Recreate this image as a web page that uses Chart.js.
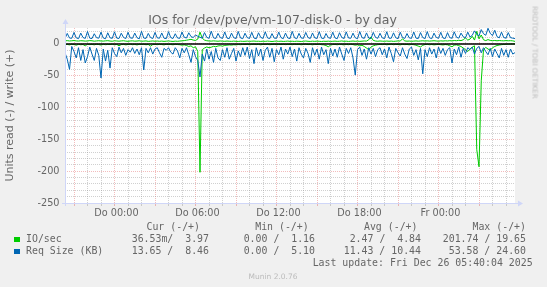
<!DOCTYPE html>
<html><head><meta charset="utf-8">
<script src="https://cdn.jsdelivr.net/npm/chart.js@4"></script>
<style>
html,body{margin:0;padding:0;background:#f0f0f0;}
#wrap{position:relative;width:547px;height:287px;overflow:hidden;background:#f0f0f0;}
canvas{position:absolute;left:0;top:0;}
.t{position:absolute;white-space:pre;color:#666;font-family:"DejaVu Sans";}
.m{font-family:"DejaVu Sans Mono";font-size:9.9px;line-height:12px;}
.sq{position:absolute;width:5.5px;height:5.5px;}
</style></head><body>
<div id="wrap">
<canvas id="c" width="547" height="287"></canvas>
<div class="t" style="left:0;width:545px;text-align:center;top:11.9px;font-size:12.5px;line-height:15px;">IOs for /dev/pve/vm-107-disk-0 - by day</div>
<div class="t" style="left:474.5px;width:120px;top:48px;text-align:center;font-size:7.2px;line-height:9px;color:#bbb;transform:rotate(90deg);">RRDTOOL / TOBI OETIKER</div>

<div class="t m" style="right:347px;top:221.1px;">Cur (-/+)</div>
<div class="t m" style="right:238.3px;top:221.1px;">Min (-/+)</div>
<div class="t m" style="right:129.5px;top:221.1px;">Avg (-/+)</div>
<div class="t m" style="right:21px;top:221.1px;">Max (-/+)</div>

<div class="sq" style="left:14px;top:236.8px;background:#00cc00;"></div>
<div class="t m" style="left:26px;top:232.9px;">IO/sec</div>
<div class="t m" style="right:338px;top:232.9px;">36.53m/  3.97</div>
<div class="t m" style="right:232px;top:232.9px;">0.00 /  1.16</div>
<div class="t m" style="right:126px;top:232.9px;">2.47 /  4.84</div>
<div class="t m" style="right:21px;top:232.9px;">201.74 / 19.65</div>

<div class="sq" style="left:14px;top:248.8px;background:#0066b3;"></div>
<div class="t m" style="left:26px;top:244.9px;">Req Size (KB)</div>
<div class="t m" style="right:338px;top:244.9px;">13.65 /  8.46</div>
<div class="t m" style="right:232px;top:244.9px;">0.00 /  5.10</div>
<div class="t m" style="right:126px;top:244.9px;">11.43 / 10.44</div>
<div class="t m" style="right:21px;top:244.9px;">53.58 / 24.60</div>

<div class="t m" style="right:14.4px;top:257.1px;">Last update: Fri Dec 26 05:40:04 2025</div>
<div class="t" style="left:0;width:546px;text-align:center;top:271.9px;font-size:7.5px;line-height:9px;color:#bbb;">Munin 2.0.76</div>
</div>
<script>
// time axis: hours relative to "Do 00:00"; samples every 10 minutes from Wed 20:20 to Fri 05:40
const START = -3 - 40 / 60;
const STEP = 10 / 60;

const xTickHours = [0, 6, 12, 18, 24];
const xTickLabels = ['Do 00:00', 'Do 06:00', 'Do 12:00', 'Do 18:00', 'Fr 00:00'];
const yTickValues = [0, -50, -100, -150, -200, -250];
const yAxisTitle = 'Units read (-) / write (+)';

// IO/sec write (+)
const ioWrite = [
4.8,5.1,4.6,4.9,5.3,4.7,4.5,5.0,4.8,4.4,4.6,5.2,4.9,4.3,4.7,5.0,4.6,4.4,4.8,5.1,
4.5,4.2,4.9,4.6,4.3,4.7,5.0,4.4,4.1,4.6,4.8,4.3,4.5,4.9,4.2,4.4,4.7,4.0,4.3,4.6,
4.2,4.5,4.1,4.4,4.0,4.3,4.6,4.2,3.9,4.4,4.1,4.5,4.8,5.2,5.8,6.5,7.2,6.0,5.5,7.5,
18.5,9.0,6.0,5.0,4.6,4.4,4.8,4.5,4.2,4.6,4.3,4.1,4.5,4.2,4.0,4.4,4.1,3.9,4.3,4.0,
4.1,4.4,4.0,4.3,4.5,4.1,4.2,3.9,4.3,4.0,4.4,4.1,3.8,4.2,4.4,4.0,4.3,3.9,4.1,4.4,
4.0,4.2,3.9,4.3,4.1,3.8,4.2,4.5,4.1,3.9,4.3,4.0,4.4,4.1,3.8,4.2,4.0,4.3,3.9,4.1,
4.4,4.0,4.2,4.6,4.1,4.3,3.9,4.2,4.5,4.1,4.4,4.0,4.3,4.6,4.4,6.5,11.0,5.5,4.5,4.2,
4.6,4.3,4.1,4.5,4.2,4.4,4.0,4.3,4.7,4.4,8.0,4.7,4.3,4.5,4.1,4.4,4.7,4.3,4.6,4.9,
4.5,4.8,4.4,4.7,5.0,4.6,4.3,4.8,4.5,4.9,4.6,5.1,4.7,5.3,5.0,5.7,5.2,6.5,9.5,6.0,
7.5,12.0,6.0,19.65,8.0,14.0,6.5,5.2,6.8,5.5,5.0,5.4,4.9,5.3,5.0,4.8,5.2,4.9,5.1,4.8,
3.97];

// IO/sec read (-)
const ioRead = [
-1.2,-0.8,-1.5,-0.6,-1.0,-2.0,-0.7,-1.3,-0.9,-3.0,-0.5,-1.1,-0.8,-1.4,-0.6,-1.0,-1.8,-0.7,-1.2,-0.9,
-1.0,-0.6,-1.4,-0.8,-3.0,-1.1,-0.7,-1.5,-0.9,-0.5,-1.2,-0.8,-1.6,-0.7,-1.0,-0.6,-1.3,-0.9,-3.5,-1.1,
-0.8,-1.2,-0.6,-1.0,-1.5,-0.7,-1.1,-0.9,-1.4,-0.6,-1.0,-1.3,-2.0,-1.5,-2.5,-4.0,-3.0,-6.0,-4.5,-12.0,
-201.74,-9.0,-6.5,-4.8,-6.0,-5.2,-3.8,-4.5,-3.2,-2.8,-3.5,-2.4,-2.0,-1.6,-1.9,-1.3,-1.5,-1.0,-1.2,-0.8,
-1.0,-0.7,-1.3,-0.9,-0.6,-1.1,-0.8,-1.4,-0.7,-1.0,-0.5,-1.2,-0.9,-0.6,-1.3,-0.8,-1.0,-0.7,-1.1,-0.9,
-0.8,-1.2,-0.6,-1.0,-0.7,-1.3,-0.9,-0.5,-1.1,-0.8,-1.4,-0.7,-1.0,-0.6,-1.2,-1.5,-2.5,-4.5,-2.0,-1.0,
-0.9,-1.3,-0.7,-1.0,-1.5,-0.8,-1.2,-0.6,-1.1,-2.0,-1.4,-3.0,-2.2,-4.0,-6.5,-9.0,-5.0,-3.0,-2.0,-1.2,
-0.8,-1.1,-0.7,-1.3,-0.9,-0.6,-1.2,-0.8,-1.0,-1.5,-0.7,-1.1,-0.9,-1.4,-0.8,-1.2,-2.0,-3.5,-4.8,-2.2,
-1.0,-0.7,-1.3,-0.9,-1.5,-1.1,-0.8,-1.2,-1.6,-1.0,-1.4,-3.0,-4.5,-2.0,-1.5,-2.8,-4.0,-6.5,-9.0,-12.0,
-8.0,-5.0,-3.0,-166.0,-193.0,-58.0,-9.0,-5.5,-8.0,-10.0,-6.0,-4.0,-2.5,-1.8,-1.2,-0.8,-0.5,-0.3,-0.2,-0.1,
-0.037];

// Req Size (KB) write (+)
const reqWrite = [
8.5,16.5,9.2,8.8,18.0,9.5,8.2,17.0,10.0,8.6,19.5,9.0,8.4,16.0,9.8,8.9,18.5,9.3,8.1,17.5,
9.6,8.7,19.0,9.1,8.5,16.8,10.2,8.3,18.2,9.4,8.8,17.0,9.7,8.0,19.8,9.2,8.6,16.5,10.0,8.4,
18.0,9.5,8.9,17.2,9.0,8.2,19.2,9.9,8.5,16.0,9.3,8.7,18.6,10.4,9.2,17.5,11.5,10.0,14.0,12.0,
10.5,9.0,17.8,10.2,8.8,20.0,9.6,8.4,16.5,9.9,8.6,18.8,9.1,8.3,17.0,9.7,8.5,19.5,9.4,8.2,
16.8,9.8,8.6,18.2,9.2,8.0,17.5,10.1,8.7,19.0,9.5,8.3,16.2,9.0,8.8,18.5,9.9,8.2,17.0,9.3,
8.5,19.6,9.7,8.1,16.6,9.2,8.9,18.0,10.0,8.4,17.2,9.5,8.6,19.2,9.1,8.3,16.4,9.8,8.7,18.4,
9.4,8.2,17.6,10.1,8.5,18.9,9.3,8.8,16.9,9.6,8.1,19.4,9.9,8.6,17.3,9.2,8.4,18.1,10.3,8.7,
16.7,9.5,8.3,19.1,9.0,8.9,17.4,9.7,8.2,18.3,10.0,8.6,16.3,9.4,8.8,18.7,9.1,8.4,17.8,9.9,
8.5,19.3,9.6,8.2,16.9,10.2,8.7,18.2,9.3,8.5,17.7,9.8,8.9,19.0,10.4,9.0,17.0,11.2,9.6,18.5,
10.8,13.5,20.5,15.0,12.5,22.5,16.0,13.5,24.6,16.5,13.0,21.5,11.5,9.5,18.5,10.0,9.0,17.8,9.8,9.0,
8.46];

// Req Size (KB) read (-)
const reqRead = [
-14,-24,-40,-4,-12,-22,-6,-26,-9,-30,-20,-5,-16,-26,-7,-18,-53.58,-8,-27,-10,
-38,-6,-15,-20,-5,-14,-7,-18,-9,-13,-6,-15,-8,-17,-6,-41,-7,-14,-6,-16,
-8,-6,-14,-21,-7,-10,-6,-13,-16,-6,-11,-22,-7,-14,-6,-17,-29,-9,-20,-26,
-52,-16,-27,-8,-24,-12,-29,-7,-22,-26,-9,-21,-6,-24,-15,-7,-27,-11,-20,-6,
-18,-5,-23,-9,-31,-6,-19,-8,-26,-10,-5,-21,-7,-28,-9,-17,-5,-24,-8,-16,
-5,-20,-8,-27,-6,-16,-22,-7,-15,-29,-6,-18,-8,-24,-5,-17,-9,-31,-7,-19,
-8,-21,-5,-16,-26,-7,-15,-6,-22,-49,-9,-5,-18,-8,-24,-6,-16,-7,-20,-9,
-6,-17,-8,-22,-5,-15,-28,-7,-14,-19,-6,-16,-23,-8,-5,-18,-9,-25,-7,-47,
-9,-20,-6,-16,-8,-22,-5,-15,-7,-18,-9,-6,-30,-8,-17,-5,-21,-7,-15,-6,
-9,-5,-16,-7,-4,-14,-6,-12,-17,-7,-20,-8,-15,-22,-7,-18,-9,-21,-8,-16,
-13.65];

const pts = arr => arr.map((v, i) => ({ x: START + i * STEP, y: v }));

const RED = 'rgba(222,79,79,0.38)';
const GRAY = 'rgba(150,150,150,0.45)';
const AXIS = '#cfd6f8';

const bgPlugin = {
  id: 'bg',
  beforeDraw(chart) {
    const { ctx, chartArea: a } = chart;
    ctx.save();
    ctx.fillStyle = '#f0f0f0';
    ctx.fillRect(0, 0, chart.width, chart.height);
    ctx.fillStyle = '#ffffff';
    ctx.fillRect(a.left, a.top, a.right - a.left, a.bottom - a.top);
    ctx.restore();
  },
  afterDatasetsDraw(chart) {
    const { ctx, chartArea: a, scales } = chart;
    const y0 = scales.y.getPixelForValue(0);
    ctx.save();
    ctx.strokeStyle = '#000';
    ctx.lineWidth = 1.5;
    ctx.beginPath();
    ctx.moveTo(a.left, y0);
    ctx.lineTo(a.right, y0);
    ctx.stroke();
    ctx.strokeStyle = AXIS;
    ctx.fillStyle = AXIS;
    ctx.lineWidth = 1;
    const lx = a.left + 0.5, by = a.bottom + 0.5;
    ctx.beginPath();
    ctx.moveTo(lx, a.bottom + 3);
    ctx.lineTo(lx, a.top - 4);
    ctx.moveTo(a.left - 3, by);
    ctx.lineTo(a.right + 3, by);
    ctx.stroke();
    ctx.beginPath();
    ctx.moveTo(lx, a.top - 9);
    ctx.lineTo(lx - 3, a.top - 4);
    ctx.lineTo(lx + 3, a.top - 4);
    ctx.closePath();
    ctx.fill();
    ctx.beginPath();
    ctx.moveTo(a.right + 8, by);
    ctx.lineTo(a.right + 3, by - 3);
    ctx.lineTo(a.right + 3, by + 3);
    ctx.closePath();
    ctx.fill();
    ctx.restore();
  }
};

const hours = [];
for (let h = -3; h <= 29; h++) hours.push(h);
const yGrid = [];
for (let v = -250; v <= 20; v += 10) yGrid.push(v);

new Chart(document.getElementById('c'), {
  type: 'line',
  data: {
    datasets: [
      { label: 'Req Size (KB) write', data: pts(reqWrite), borderColor: '#0066b3', order: 0 },
      { label: 'Req Size (KB) read', data: pts(reqRead), borderColor: '#0066b3', order: 0 },
      { label: 'IO/sec write', data: pts(ioWrite), borderColor: '#00cc00', order: 1 },
      { label: 'IO/sec read', data: pts(ioRead), borderColor: '#00cc00', order: 1 }
    ]
  },
  options: {
    responsive: false,
    animation: false,
    devicePixelRatio: 1,
    layout: { padding: { left: 0, right: 32, top: 28, bottom: 0 } },
    elements: {
      point: { radius: 0 },
      line: { borderWidth: 1, tension: 0, fill: false }
    },
    plugins: { legend: { display: false }, tooltip: { enabled: false }, title: { display: false } },
    scales: {
      x: {
        type: 'linear',
        min: START,
        max: START + (ioWrite.length - 1) * STEP,
        afterBuildTicks(scale) { scale.ticks = hours.map(h => ({ value: h })); },
        afterFit(scale) { scale.height = 84; },
        border: { display: false, dash: [1, 1] },
        grid: {
          color: c => (c.tick && c.tick.value % 3 === 0) ? RED : GRAY,
          tickColor: c => (c.tick && c.tick.value % 3 === 0) ? RED : GRAY,
          drawTicks: true,
          tickLength: 3,
          lineWidth: 1
        },
        ticks: {
          autoSkip: false,
          maxRotation: 0,
          padding: 2,
          labelOffset: 2,
          color: '#666',
          font: { family: 'DejaVu Sans', size: 9.7 },
          callback: v => {
            const k = xTickHours.indexOf(v);
            return k >= 0 ? xTickLabels[k] : '';
          }
        }
      },
      y: {
        type: 'linear',
        min: -250,
        max: 25,
        afterBuildTicks(scale) { scale.ticks = yGrid.map(v => ({ value: v })); },
        afterFit(scale) { scale.width = 65; },
        border: { display: false, dash: [1, 1] },
        title: {
          display: true,
          text: yAxisTitle,
          color: '#666',
          font: { family: 'DejaVu Sans', size: 11 },
          padding: { top: 3.5, bottom: 0 }
        },
        grid: {
          color: c => (c.tick && c.tick.value % 50 === 0) ? RED : GRAY,
          drawTicks: false,
          lineWidth: 1
        },
        ticks: {
          autoSkip: false,
          padding: 5.5,
          color: '#666',
          font: { family: 'DejaVu Sans', size: 9.7 },
          callback: v => yTickValues.includes(v) ? String(v) : ''
        }
      }
    }
  },
  plugins: [bgPlugin]
});
</script>
</body></html>
